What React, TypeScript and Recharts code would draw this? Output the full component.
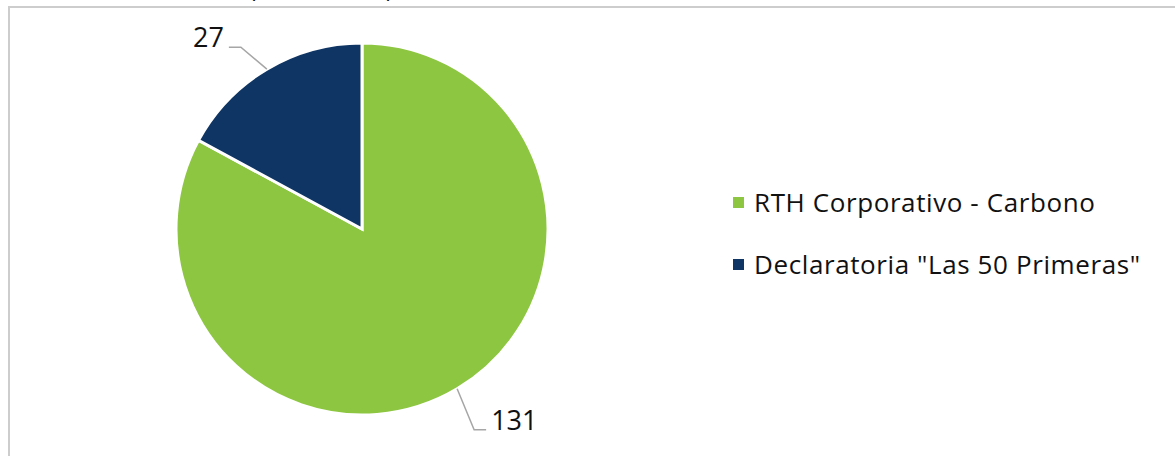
import React from "react";
import { Cell, Pie, PieChart } from "recharts";

const categories = ["RTH Corporativo - Carbono", 'Declaratoria "Las 50 Primeras"'];
const values = [131, 27];
const colors = ["#8DC641", "#0E3564"];

const chartData = categories.map((name, i) => ({
    name,
    value: values[i],
    color: colors[i],
}));

const FONT = "'Open Sans', 'Noto Sans', sans-serif";
const RADIAN = Math.PI / 180;

// Leader line from slice edge with an elbow, value next to it
const renderLabel = (props: any) => {
    const { cx, cy, midAngle, outerRadius, value, index } = props;
    const cos = Math.cos(-midAngle * RADIAN);
    const sin = Math.sin(-midAngle * RADIAN);
    const x0 = cx + outerRadius * cos;
    const y0 = cy + outerRadius * sin;
    const right = cos >= 0;
    const x1 = right ? x0 + 17 : x0 - 26;
    const y1 = right ? y0 + 41 : y0 - 22;
    const x2 = right ? x1 + 12 : x1 - 12;
    return (
        <g key={`lbl-${index}`}>
            <polyline
                points={`${x0},${y0} ${x1},${y1} ${x2},${y1}`}
                fill="none"
                stroke="#A6A6A6"
                strokeWidth={1.5}
            />
            <text
                x={right ? x2 + 5 : x2 - 5}
                y={y1}
                textAnchor={right ? "start" : "end"}
                fontSize={27}
                fontFamily={FONT}
                fill="#111"
            >
                {value}
            </text>
        </g>
    );
};

const parenStyle: React.CSSProperties = {
    position: "absolute",
    top: -24,
    fontSize: 24,
    lineHeight: "24px",
    fontFamily: FONT,
    color: "#111",
};

export default function App() {
    return (
        <div
            style={{
                position: "absolute",
                top: 0,
                left: 0,
                width: 1175,
                height: 456,
                overflow: "hidden",
                background: "#fff",
            }}
        >
            <div
                style={{
                    position: "absolute",
                    left: 8,
                    top: 6,
                    width: 1200,
                    height: 500,
                    borderLeft: "2px solid #CDCDCD",
                    borderTop: "2px solid #CDCDCD",
                }}
            ></div>
            <span style={{ ...parenStyle, left: 249 }}>(</span>
            <span style={{ ...parenStyle, left: 386 }}>)</span>
            <div style={{ position: "absolute", top: 0, left: 0 }}>
                <PieChart
                    width={1175}
                    height={456}
                    margin={{ top: 0, right: 0, bottom: 0, left: 0 }}
                >
                    <Pie
                        data={chartData}
                        dataKey="value"
                        nameKey="name"
                        cx={362}
                        cy={229}
                        outerRadius={186}
                        startAngle={90}
                        endAngle={-270}
                        stroke="#FFFFFF"
                        strokeWidth={3}
                        label={renderLabel}
                        labelLine={false}
                        isAnimationActive={false}
                    >
                        {chartData.map((entry, index) => (
                            <Cell key={`cell-${index}`} fill={entry.color} />
                        ))}
                    </Pie>
                </PieChart>
            </div>
            <div
                style={{
                    position: "absolute",
                    left: 733,
                    top: 171,
                    fontFamily: FONT,
                }}
            >
                {chartData.map((entry, idx) => (
                    <div
                        key={idx}
                        style={{
                            display: "flex",
                            alignItems: "center",
                            height: 62,
                        }}
                    >
                        <div
                            style={{
                                width: 11,
                                height: 11,
                                backgroundColor: entry.color,
                                marginRight: 10,
                            }}
                        ></div>
                        <span
                            style={{
                                fontSize: 26,
                                letterSpacing: 0.6,
                                color: "#111",
                            }}
                        >
                            {entry.name}
                        </span>
                    </div>
                ))}
            </div>
        </div>
    );
}
